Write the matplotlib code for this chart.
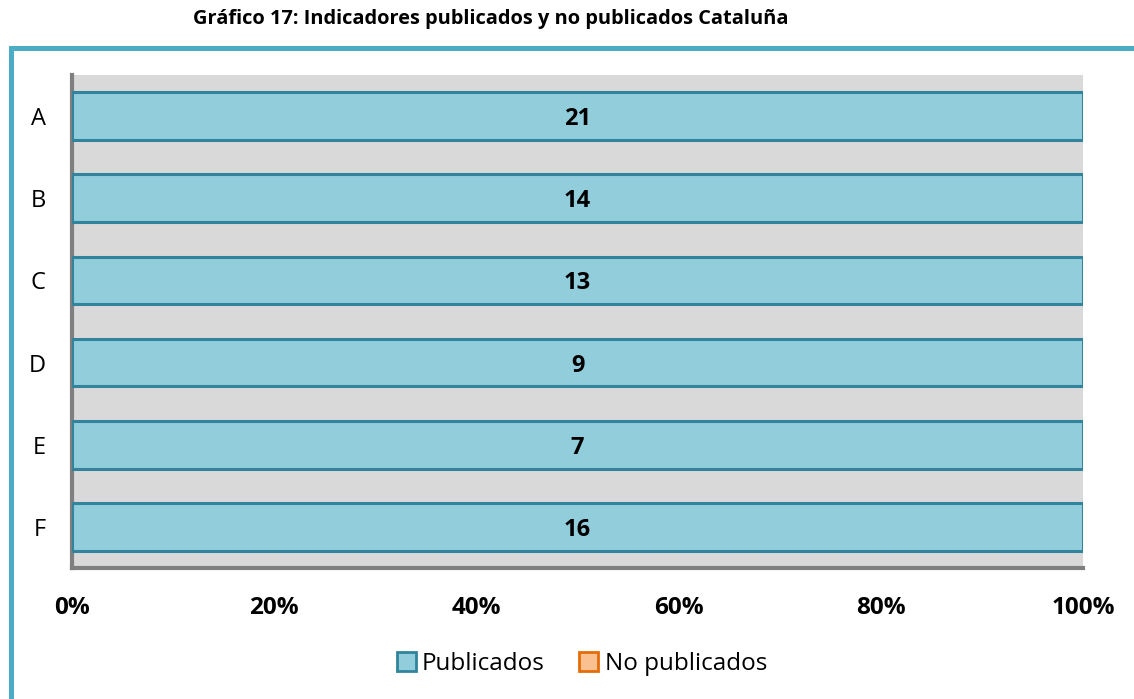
import numpy as np
import matplotlib.pyplot as plt
from matplotlib.patches import Patch, Rectangle

plt.rcParams['font.family'] = ['Open Sans', 'DejaVu Sans']

# Datos
categorias = ['A', 'B', 'C', 'D', 'E', 'F']
publicados = [21, 14, 13, 9, 7, 16]
no_publicados = [0, 0, 0, 0, 0, 0]
titulo = 'Gráfico 17: Indicadores publicados y no publicados Cataluña'

pub = np.array(publicados, dtype=float)
nop = np.array(no_publicados, dtype=float)
total = pub + nop
pct_pub = pub / total * 100
pct_nop = nop / total * 100

fig = plt.figure(figsize=(11.34, 6.99), dpi=100)

# marco del gráfico
fig.patches.append(Rectangle((10.5 / 1134, -0.05), 1.2, (699 - 47.5) / 699 + 0.05,
                             transform=fig.transFigure, fill=False,
                             edgecolor='#4BACC6', linewidth=3.6, zorder=0))

fig.text(0.433, 0.973, titulo, ha='center', va='center', fontsize=14.4, fontweight='bold')

ax = fig.add_axes([72 / 1134, (699 - 568) / 699, (1083 - 72) / 1134, (568 - 75) / 699])
ax.set_facecolor('#D9D9D9')

y = np.arange(len(categorias))
ax.barh(y, pct_pub, height=0.58, color='#92CDDC', edgecolor='#31849B', linewidth=2.2, zorder=3)
ax.barh(y, pct_nop, left=pct_pub, height=0.58, color='#FAC090', edgecolor='#E46C0A',
        linewidth=[2.2 if v > 0 else 0 for v in pct_nop], zorder=3)

for i in range(len(categorias)):
    ax.text(pct_pub[i] / 2, y[i], str(publicados[i]), ha='center', va='center_baseline',
            fontsize=17, fontweight='bold', zorder=4)

ax.set_ylim(len(categorias) - 0.5, -0.5)
ax.set_xlim(0, 100)
ax.set_yticks(y)
ax.set_yticklabels(categorias, fontsize=17)
ax.set_xticks(np.arange(0, 101, 20))
ax.set_xticklabels([f'{v}%' for v in range(0, 101, 20)], fontsize=17.5, fontweight='bold')
ax.tick_params(axis='both', length=0)
ax.tick_params(axis='x', pad=20)
ax.tick_params(axis='y', pad=19)

for s in ['top', 'right']:
    ax.spines[s].set_visible(False)
for s in ['left', 'bottom']:
    ax.spines[s].set_color('#7F7F7F')
    ax.spines[s].set_linewidth(3)

handles = [Patch(facecolor='#92CDDC', edgecolor='#31849B', linewidth=2, label='Publicados'),
           Patch(facecolor='#FAC090', edgecolor='#E46C0A', linewidth=2, label='No publicados')]
fig.legend(handles=handles, loc='center', bbox_to_anchor=(0.513, 0.05), ncol=2,
           frameon=False, fontsize=17.5, handlelength=0.8, handleheight=0.8,
           handletextpad=0.25, columnspacing=1.4)

fig.savefig('out.png', dpi=100)
